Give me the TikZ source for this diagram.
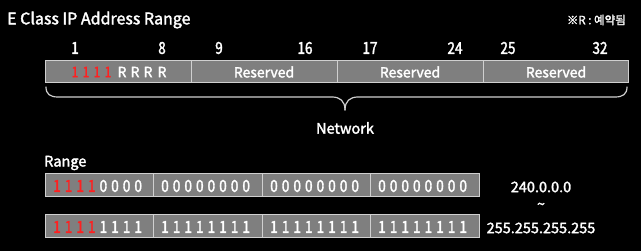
\documentclass[tikz,border=0pt]{standalone}
\usepackage{fontspec}
\setmainfont[FakeBold=2]{Noto Sans CJK KR}
\newfontfamily\narrowfont[FakeBold=2,FakeStretch=0.82]{Noto Sans CJK KR}
\definecolor{barfill}{HTML}{7F7F7F}
\definecolor{barline}{HTML}{D0D0D0}
\definecolor{bitred}{HTML}{FF2020}
\begin{document}
\begin{tikzpicture}[x=1pt,y=-1pt,
  cellbox/.style={draw=barline,fill=barfill,line width=1pt},
  txt/.style={text=white,inner sep=0pt,anchor=center},
  barw/.style={txt,font=\fontsize{14}{14}\selectfont},
  barr/.style={txt,text=bitred,font=\narrowfont\fontsize{14.5}{14}\selectfont},
  bitw/.style={txt,font=\narrowfont\fontsize{16.5}{16}\selectfont},
  bitr/.style={bitw,text=bitred},
  numl/.style={txt,font=\narrowfont\fontsize{16.5}{16}\selectfont},
  lbl/.style={txt,font=\fontsize{14.5}{15}\selectfont}]
\fill[black] (0,0) rectangle (641,251);
\useasboundingbox (0,0) rectangle (641,251);
% title
\node[txt,anchor=west,font=\fontsize{16}{16}\selectfont] (title) at (7,20) {E Class IP Address Range};
\node[txt,anchor=east,font=\fontsize{11.5}{12}\selectfont] (note) at (626,20) {※R : 예약됨};
% bit numbers
\foreach \n/\x in {1/75,8/162,9/219,16/305,17/370,24/455,25/508,32/600}
  \node[numl] (num\n) at (\x,48) {\n};
% top bar
\draw[cellbox] (45,61) rectangle (191,83);
\draw[cellbox] (191,61) rectangle (337,83);
\draw[cellbox] (337,61) rectangle (483,83);
\draw[cellbox] (483,61) rectangle (628,83);
\foreach \x [count=\i] in {75,86,97,108} \node[barr] (t\i) at (\x,72) {1};
\foreach \x [count=\i] in {122,135,148,162} \node[barw] (r\i) at (\x,72) {R};
\node[barw] (res2) at (264,72) {Reserved};
\node[barw] (res3) at (410,72) {Reserved};
\node[barw] (res4) at (556,72) {Reserved};
% brace
\coordinate (bl) at (46,87);
\coordinate (br) at (627,87);
\coordinate (bt) at (345,110);
\draw[barline,line width=1.2pt,line cap=round]
  (bl) .. controls (46,94) and (50,97) .. (58,97) -- (332,97)
  .. controls (340,97) and (345,101) .. (bt);
\draw[barline,line width=1.2pt,line cap=round]
  (br) .. controls (627,94) and (623,97) .. (615,97) -- (358,97)
  .. controls (350,97) and (345,101) .. (bt);
\node[lbl] (network) at (345,128) {Network};
% range
\node[lbl,anchor=west] (range) at (44,163) {Range};
\foreach \y/\row/\d in {186/a/0,227/b/1}{
  \draw[cellbox] (45,\y-12) rectangle (153,\y+11);
  \draw[cellbox] (153,\y-12) rectangle (262,\y+11);
  \draw[cellbox] (262,\y-12) rectangle (370,\y+11);
  \draw[cellbox] (370,\y-12) rectangle (479,\y+11);
  \foreach \cx [count=\c] in {45,153,262,370}{
    \foreach \i in {0,...,7}{
      \pgfmathsetmacro{\px}{\cx+12+11.6*\i}
      \ifnum\c=1 \ifnum\i<4
        \node[bitr] (\row\c\i) at (\px,\y) {1};
      \else
        \node[bitw] (\row\c\i) at (\px,\y) {\d};
      \fi\else
        \node[bitw] (\row\c\i) at (\px,\y) {\d};
      \fi
    }
  }
}
\node[lbl] (low) at (541,187) {240.0.0.0};
\node[lbl] (tilde) at (541,206) {\textasciitilde};
\node[lbl] (high) at (541,228) {255.255.255.255};
\end{tikzpicture}
\end{document}
